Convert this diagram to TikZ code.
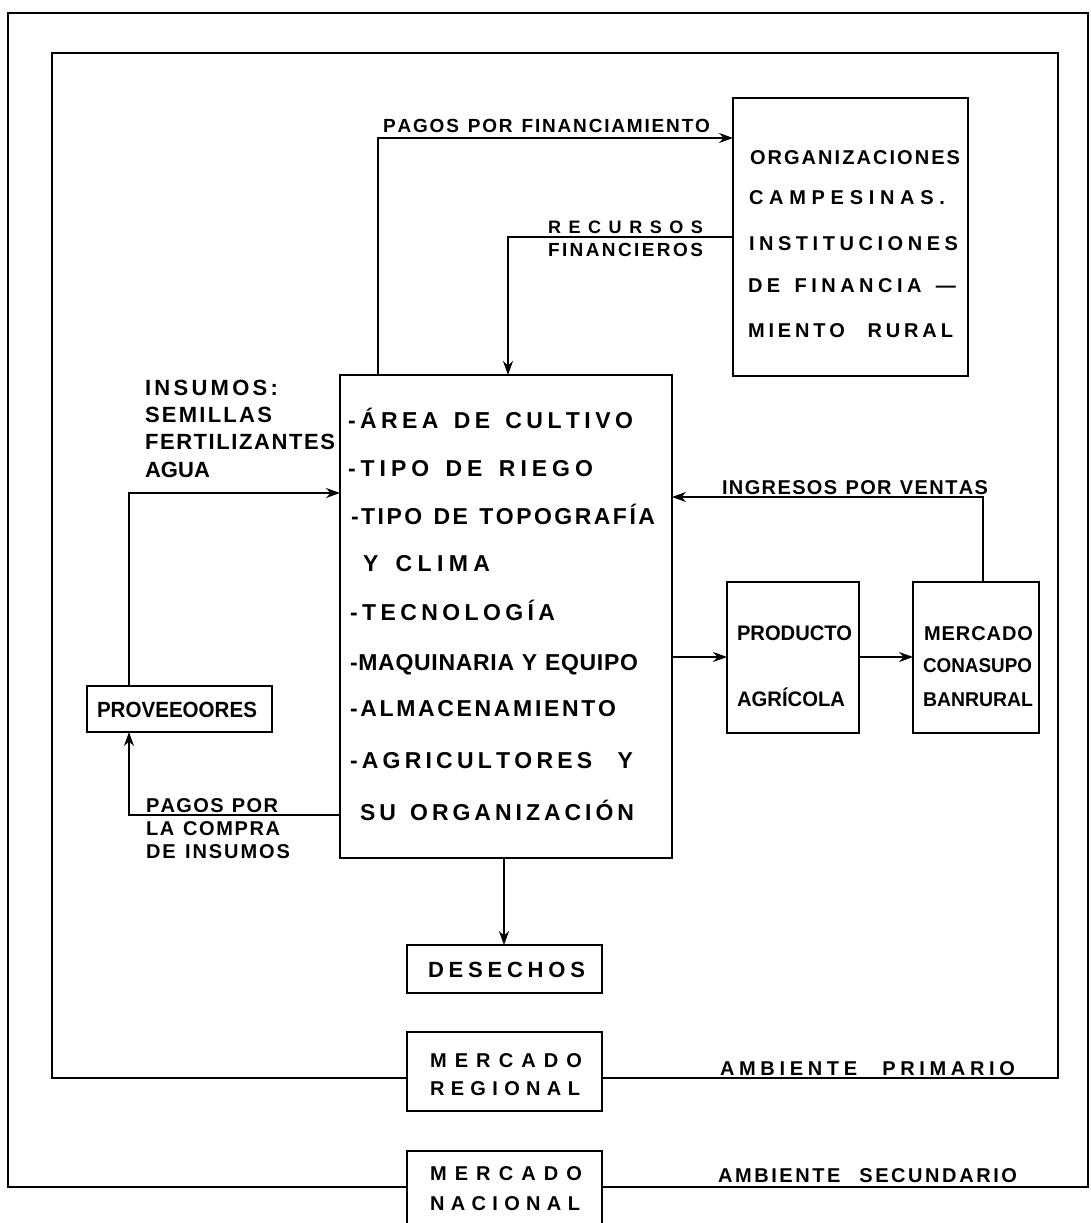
\documentclass[tikz,border=0pt]{standalone}
\usepackage{fontspec}
\setmainfont{Liberation Sans}
\usetikzlibrary{arrows.meta}
\newsavebox\txbox
\newdimen\txw
\def\spx#1{\ifx#1\relax\else#1\hfil\expandafter\spx\fi}
\newcommand\tx[1]{\sbox\txbox{#1}\ifdim\wd\txbox>\txw\relax\resizebox{\txw}{\height}{\usebox\txbox}\else\hbox to\txw{\spx#1\relax\unskip}\fi}
\newcommand\lab[6]{\node[lbl,yshift={-0.358*#5pt}] (#1) at (#2,#4) {\fontsize{#5}{#5}\selectfont\txw=\dimexpr #3pt-#2pt\relax\tx{#6}};}
\begin{document}
\begin{tikzpicture}[x=1pt,y=-1pt,
  box/.style={draw,line width=1.8pt,inner sep=0pt,outer sep=0pt,anchor=north west},
  lbl/.style={anchor=base west,inner sep=0pt,outer sep=0pt,font=\bfseries},
  arr/.style={line width=1.4pt,-{Stealth[length=14pt,width=10pt]}},
  ln/.style={line width=1.7pt}]
\useasboundingbox (0,0) rectangle (1091,1223);
\clip (0,0) rectangle (1091,1223);
\fill[white] (0,0) rectangle (1091,1223);
% boxes
\node[box,minimum width=332pt,minimum height=483pt] (main) at (340,375) {};
\node[box,minimum width=235pt,minimum height=278pt] (org) at (733,98) {};
\node[box,minimum width=185pt,minimum height=46pt] (prov) at (87,686) {};
\node[box,minimum width=132pt,minimum height=151pt] (prod) at (727,582) {};
\node[box,minimum width=126pt,minimum height=151pt] (merc) at (913,582) {};
\node[box,minimum width=195pt,minimum height=48pt] (des) at (407,945) {};
\node[box,minimum width=195pt,minimum height=79pt] (reg) at (407,1032) {};
\node[box,minimum width=195pt,minimum height=95pt] (nac) at (407,1151) {};
% frame corners
\coordinate (iTL) at (52,53);
\coordinate (iBR) at (1058,1078);
\coordinate (oTL) at (8,13);
\coordinate (oBR) at (1088,1187);
% frames
\draw[ln] (reg.west |- iBR) -| (iTL) -| (iBR) -- (reg.east |- iBR);
\draw[ln] (nac.west |- oBR) -| (oTL) -| (oBR) -- (nac.east |- oBR);
% connectors
\draw[arr] (main.north -| 378,0) |- (org.west |- 0,138);
\draw[arr] (org.west |- 0,237) -| (main.north -| 508,0);
\draw[arr] (prov.north -| 129,0) |- (main.west |- 0,493);
\draw[arr] (main.west |- 0,815) -| (prov.south -| 129,0);
\draw[arr] (merc.north -| 983,0) |- (main.east |- 0,497);
\draw[arr] (main.east |- 0,657) -- (prod.west |- 0,657);
\draw[arr] (prod.east |- 0,657) -- (merc.west |- 0,657);
\draw[arr] (main.south -| 504,0) -- (des.north -| 504,0);
% labels
\lab{tPF}{383}{710}{126}{19}{PAGOS~POR~FINANCIAMIENTO}
\lab{tRec}{548}{703}{227}{18}{RECURSOS}
\lab{tFin}{548}{703}{250}{19}{FINANCIEROS}
\lab{tOa}{750}{960}{157}{20}{ORGANIZACIONES}
\lab{tOb}{749}{945}{197}{20}{CAMPESINAS.}
\lab{tOc}{749}{958}{243}{20}{INSTITUCIONES}
\lab{tOd}{748}{956}{285}{20}{DE~FINANCIA~—}
\lab{tOe}{748}{953}{330}{20}{MIENTO~~RURAL}
\lab{tIa}{145}{278}{388}{22}{INSUMOS:}
\lab{tIb}{145}{272}{415}{22}{SEMILLAS}
\lab{tIc}{145}{335}{442}{22}{FERTILIZANTES}
\lab{tId}{145}{210}{470}{22}{AGUA}
\lab{tPv}{97}{257}{710}{22}{PROVEEOORES}
\lab{tCa}{146}{278}{805}{20}{PAGOS~POR}
\lab{tCb}{146}{280}{828}{20}{LA~COMPRA}
\lab{tCc}{146}{290}{851}{20}{DE~INSUMOS}
\lab{tMa}{348}{633}{420}{23}{-ÁREA~DE~CULTIVO}
\lab{tMb}{348}{593}{468}{23}{-TIPO~DE~RIEGO}
\lab{tMc}{351}{655}{516}{23}{-TIPO~DE~TOPOGRAFÍA}
\lab{tMd}{363}{490}{563}{23}{Y~CLIMA}
\lab{tMe}{350}{555}{612}{23}{-TECNOLOGÍA}
\lab{tMf}{350}{638}{662}{23}{-MAQUINARIA~Y~EQUIPO}
\lab{tMg}{350}{616}{708}{23}{-ALMACENAMIENTO}
\lab{tMh}{350}{633}{760}{23}{-AGRICULTORES~~Y}
\lab{tMi}{360}{634}{812}{23}{SU~ORGANIZACIÓN}
\lab{tIng}{722}{988}{487}{20}{INGRESOS~POR~VENTAS}
\lab{tPa}{737}{852}{633}{21}{PRODUCTO}
\lab{tPb}{737}{845}{699}{21}{AGRÍCOLA}
\lab{tKa}{924}{1033}{633}{20}{MERCADO}
\lab{tKb}{923}{1032}{665}{20}{CONASUPO}
\lab{tKc}{923}{1033}{699}{20}{BANRURAL}
\lab{tD}{428}{585}{970}{22}{DESECHOS}
\lab{tRa}{430}{582}{1060}{20}{MERCADO}
\lab{tRb}{430}{580}{1088}{20}{REGIONAL}
\lab{tNa}{430}{582}{1173}{20}{MERCADO}
\lab{tNb}{430}{580}{1203}{20}{NACIONAL}
\lab{tAa}{720}{1015}{1068}{20}{AMBIENTE~~PRIMARIO}
\lab{tAb}{718}{1017}{1175}{20}{AMBIENTE~~SECUNDARIO}
\end{tikzpicture}
\end{document}
